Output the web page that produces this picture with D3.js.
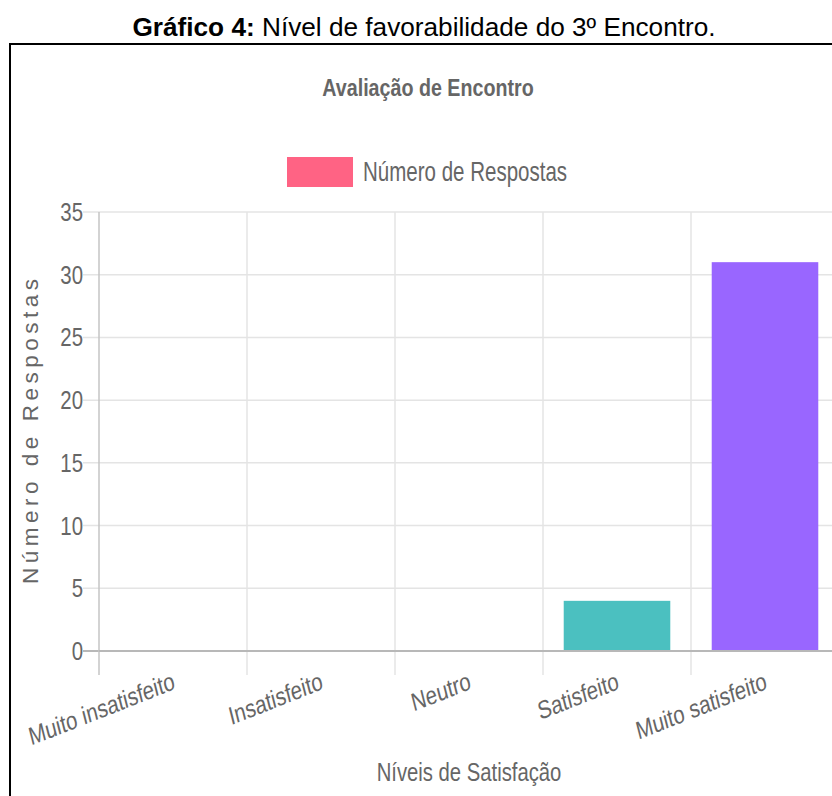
<!DOCTYPE html>
<html>
<head>
<meta charset="utf-8">
<script src="https://cdn.jsdelivr.net/npm/d3@7"></script>
<style>
  html, body { margin: 0; padding: 0; background: #ffffff; }
  svg { display: block; }
</style>
</head>
<body>
<script>
// ---- data ----
const categories = ["Muito insatisfeito", "Insatisfeito", "Neutro", "Satisfeito", "Muito satisfeito"];
const values = [0, 0, 0, 4, 31];
const barColors = ["#ff6384", "#ff9f40", "#ffcd56", "#4bc0c0", "#9966ff"];
const yTicks = [0, 5, 10, 15, 20, 25, 30, 35];
const seriesName = "Número de Respostas";
const figureTitleBold = "Gráfico 4:";
const figureTitleRest = " Nível de favorabilidade do 3º Encontro.";
const chartTitle = "Avaliação de Encontro";
const xAxisTitle = "Níveis de Satisfação";
const yAxisTitle = "Número de Respostas";

// ---- layout ----
const W = 832, H = 796;
const plot = { left: 99, right: 839, top: 212, bottom: 651 };
const textColor = "#666666";
const fontFam = "'Liberation Sans', Arial, Helvetica, sans-serif";
const sx = 0.8; // horizontal condensation of chart texts

const svg = d3.select("body").append("svg").attr("width", W).attr("height", H);

// figure caption
const cap = svg.append("text")
  .attr("x", 424).attr("y", 36)
  .attr("text-anchor", "middle")
  .attr("font-family", fontFam).attr("font-size", 26.2).attr("fill", "#000");
cap.append("tspan").attr("font-weight", "bold").text(figureTitleBold);
cap.append("tspan").text(figureTitleRest);

// frame
svg.append("rect")
  .attr("x", 10).attr("y", 44).attr("width", 860).attr("height", 800)
  .attr("fill", "none").attr("stroke", "#000").attr("stroke-width", 2);

// scales
const x = d3.scaleBand().domain(categories).range([plot.left, plot.right]).padding(0);
const y = d3.scaleLinear().domain([0, 35]).range([plot.bottom, plot.top]);

// horizontal grid lines + tick marks (left)
const gGrid = svg.append("g");
gGrid.selectAll("line.h").data(yTicks).join("line")
  .attr("x1", plot.left - 16).attr("x2", plot.right)
  .attr("y1", d => y(d)).attr("y2", d => y(d))
  .attr("stroke", d => d === 0 ? "#b8b8b8" : "#e4e4e4")
  .attr("stroke-width", d => d === 0 ? 2 : 1.5);

// vertical grid lines at category boundaries + tick marks (below)
const boundaries = categories.map(c => x(c));
gGrid.selectAll("line.v").data(boundaries).join("line")
  .attr("x1", d => d).attr("x2", d => d)
  .attr("y1", plot.top).attr("y2", plot.bottom + 24)
  .attr("stroke", (d, i) => i === 0 ? "#c4c4c4" : "#e4e4e4")
  .attr("stroke-width", 1.5);

// bars
const barW = x.bandwidth() * 0.72;
svg.append("g").selectAll("rect").data(values).join("rect")
  .attr("x", (d, i) => x(categories[i]) + (x.bandwidth() - barW) / 2)
  .attr("width", barW)
  .attr("y", d => y(d))
  .attr("height", d => y(0) - y(d))
  .attr("fill", (d, i) => barColors[i]);

// redraw zero line above bars
svg.append("line")
  .attr("x1", plot.left).attr("x2", plot.right)
  .attr("y1", y(0)).attr("y2", y(0))
  .attr("stroke", "#b8b8b8").attr("stroke-width", 2);

// y tick labels
svg.append("g").selectAll("text").data(yTicks).join("text")
  .attr("transform", d => `translate(${plot.left - 16},${y(d)}) scale(${sx},1)`)
  .attr("text-anchor", "end").attr("dy", "0.35em")
  .attr("font-family", fontFam).attr("font-size", 25.5).attr("fill", textColor)
  .text(d => d);

// x tick labels (rotated)
svg.append("g").selectAll("text").data(categories).join("text")
  .attr("transform", d => `translate(${x(d) + x.bandwidth() / 2 + 1},${plot.bottom + 29}) scale(${sx},1) rotate(-17.5)`)
  .attr("text-anchor", "end").attr("dy", "0.35em")
  .attr("font-family", fontFam).attr("font-size", 25.5).attr("fill", textColor)
  .text(d => d);

// x axis title
svg.append("text")
  .attr("transform", `translate(${(plot.left + plot.right) / 2},781) scale(0.78,1)`)
  .attr("text-anchor", "middle")
  .attr("font-family", fontFam).attr("font-size", 26).attr("fill", textColor)
  .text(xAxisTitle);

// y axis title
svg.append("text")
  .attr("transform", `translate(38,${(plot.top + plot.bottom) / 2}) rotate(-90)`)
  .attr("text-anchor", "middle")
  .attr("font-family", fontFam).attr("font-size", 22.5).attr("fill", textColor)
  .attr("textLength", 305).attr("lengthAdjust", "spacing")
  .text(yAxisTitle);

// chart title
svg.append("text")
  .attr("transform", "translate(428,96) scale(0.82,1)")
  .attr("text-anchor", "middle")
  .attr("font-family", fontFam).attr("font-size", 24).attr("font-weight", "bold").attr("fill", textColor)
  .text(chartTitle);

// legend
svg.append("rect")
  .attr("x", 287).attr("y", 157).attr("width", 66).attr("height", 30)
  .attr("fill", barColors[0]);
svg.append("text")
  .attr("transform", "translate(363,172) scale(0.76,1)")
  .attr("dy", "0.35em")
  .attr("font-family", fontFam).attr("font-size", 27).attr("fill", textColor)
  .text(seriesName);
</script>
</body>
</html>
